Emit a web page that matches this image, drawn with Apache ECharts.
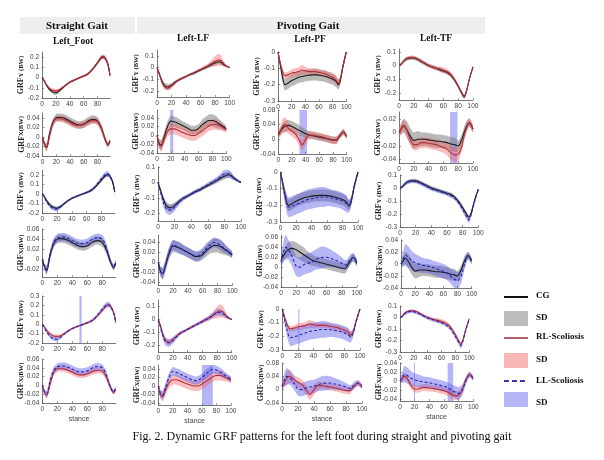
<!DOCTYPE html>
<html><head><meta charset="utf-8">
<script src="https://cdn.jsdelivr.net/npm/echarts@6/dist/echarts.min.js"></script>
<style>html,body{margin:0;padding:0;background:#fff}#c{width:604px;height:460px}</style>
</head><body><div id="c"></div>
<script>
// ---------- DATA ----------
const X_FOOT = [0,3,6,10,15,20,25,30,35,40,45,50,55,60,65,70,75,80,85,88,91,95,98];
const X_PIV  = [0,3,6,10,15,20,25,30,35,40,45,50,55,60,65,70,75,80,85,88,91,95,100];
const X_TICKS = [0,20,40,60,80,100];
const COLUMN_TITLES = ['Left_Foot','Left-LF','Left-PF','Left-TF'];
const GROUP_TITLES = ['Straight Gait','Pivoting Gait'];
const LEGEND_LABELS = ['CG','SD','RL-Scoliosis','SD','LL-Scoliosis','SD'];
const CAPTION = 'Fig. 2. Dynamic GRF patterns for the left foot during straight and pivoting gait';

// Left_Foot (straight)
const FOOT_Y_CG    = [0,-0.03,-0.07,-0.11,-0.14,-0.15,-0.13,-0.1,-0.07,-0.045,-0.03,-0.015,0,0.015,0.03,0.06,0.1,0.145,0.19,0.2,0.19,0.13,0.02];
const FOOT_Y_CG_SD = [0.005,0.01,0.012,0.015,0.018,0.02,0.016,0.012,0.01,0.01,0.01,0.01,0.01,0.012,0.012,0.014,0.015,0.018,0.02,0.02,0.02,0.02,0.02];
const FOOT_Y_RL    = [0,-0.03,-0.065,-0.1,-0.125,-0.13,-0.12,-0.095,-0.07,-0.045,-0.03,-0.015,0,0.015,0.03,0.06,0.1,0.145,0.195,0.205,0.19,0.13,0.02];
const FOOT_Y_RL_SD = [0.005,0.01,0.012,0.015,0.02,0.02,0.016,0.012,0.01,0.01,0.01,0.01,0.01,0.01,0.012,0.012,0.014,0.015,0.02,0.02,0.02,0.02,0.02];
const FOOT_Y_LL    = [0,-0.04,-0.085,-0.125,-0.155,-0.16,-0.135,-0.1,-0.07,-0.045,-0.03,-0.015,0,0.015,0.035,0.065,0.11,0.16,0.2,0.21,0.19,0.12,0.02];
const FOOT_Y_LL_SD = [0.005,0.012,0.015,0.02,0.022,0.022,0.016,0.012,0.01,0.01,0.01,0.01,0.01,0.012,0.015,0.018,0.02,0.025,0.03,0.03,0.025,0.02,0.02];
const FOOT_X_CG    = [0,-0.015,-0.022,0.005,0.03,0.04,0.041,0.04,0.037,0.033,0.029,0.026,0.025,0.027,0.032,0.036,0.037,0.033,0.02,0.008,-0.005,-0.017,-0.008];
const FOOT_X_CG_SD = [0.003,0.006,0.008,0.008,0.008,0.008,0.008,0.008,0.008,0.008,0.008,0.008,0.008,0.008,0.008,0.008,0.008,0.008,0.008,0.008,0.006,0.005,0.005];
const FOOT_X_RL    = [0,-0.016,-0.022,0,0.028,0.038,0.038,0.037,0.034,0.03,0.026,0.024,0.024,0.026,0.03,0.033,0.034,0.032,0.02,0.008,-0.005,-0.016,-0.01];
const FOOT_X_RL_SD = [0.003,0.006,0.008,0.008,0.008,0.007,0.007,0.007,0.007,0.007,0.007,0.007,0.007,0.007,0.007,0.007,0.007,0.007,0.007,0.007,0.006,0.005,0.005];
const FOOT_X_LL    = [0,-0.015,-0.02,0.008,0.033,0.042,0.044,0.044,0.041,0.037,0.033,0.031,0.031,0.033,0.038,0.042,0.043,0.04,0.026,0.01,-0.004,-0.015,-0.005];
const FOOT_X_LL_SD = [0.003,0.006,0.008,0.008,0.008,0.008,0.008,0.008,0.008,0.008,0.008,0.008,0.008,0.008,0.008,0.008,0.008,0.008,0.008,0.008,0.006,0.005,0.005];

// Left-LF (pivoting)
const LF_Y_CG    = [0,-0.05,-0.1,-0.15,-0.165,-0.15,-0.125,-0.105,-0.09,-0.075,-0.06,-0.05,-0.035,-0.02,-0.005,0.01,0.025,0.04,0.05,0.045,0.03,0.015,0];
const LF_Y_CG_SD = [0.005,0.015,0.02,0.025,0.025,0.02,0.015,0.012,0.012,0.012,0.012,0.012,0.012,0.012,0.015,0.015,0.018,0.02,0.02,0.02,0.015,0.01,0.005];
const LF_Y_RL    = [0,-0.05,-0.11,-0.16,-0.175,-0.155,-0.13,-0.105,-0.09,-0.075,-0.06,-0.045,-0.03,-0.015,0,0.015,0.035,0.055,0.065,0.06,0.04,0.015,0];
const LF_Y_RL_SD = [0.005,0.015,0.02,0.02,0.02,0.02,0.015,0.012,0.01,0.01,0.01,0.01,0.012,0.012,0.015,0.02,0.03,0.045,0.05,0.045,0.03,0.012,0.005];
const LF_Y_LL    = [0,-0.06,-0.12,-0.17,-0.18,-0.16,-0.13,-0.105,-0.09,-0.075,-0.06,-0.045,-0.03,-0.015,0,0.015,0.035,0.055,0.055,0.045,0.03,0.015,0];
const LF_Y_LL_SD = [0.005,0.02,0.03,0.03,0.03,0.025,0.02,0.015,0.012,0.012,0.012,0.012,0.012,0.015,0.015,0.018,0.02,0.025,0.025,0.02,0.015,0.01,0.005];
const LF_X_CG    = [0,-0.018,-0.022,-0.005,0.02,0.033,0.031,0.028,0.024,0.02,0.016,0.012,0.012,0.016,0.024,0.03,0.034,0.034,0.031,0.028,0.025,0.021,0.015];
const LF_X_CG_SD = [0.005,0.01,0.012,0.012,0.012,0.012,0.012,0.012,0.01,0.01,0.01,0.01,0.01,0.01,0.012,0.012,0.014,0.014,0.014,0.012,0.01,0.008,0.006];
const LF_X_RL    = [0,-0.02,-0.025,-0.01,0.008,0.015,0.015,0.012,0.008,0.005,0.002,0,0,0.005,0.01,0.016,0.022,0.025,0.025,0.024,0.022,0.018,0.013];
const LF_X_RL_SD = [0.005,0.01,0.012,0.012,0.012,0.012,0.012,0.012,0.012,0.012,0.012,0.012,0.012,0.012,0.012,0.012,0.012,0.012,0.012,0.012,0.01,0.008,0.006];
const LF_X_LL    = [0,-0.018,-0.022,-0.003,0.022,0.035,0.032,0.028,0.024,0.02,0.016,0.013,0.014,0.02,0.028,0.035,0.04,0.038,0.033,0.03,0.026,0.022,0.016];
const LF_X_LL_SD = [0.005,0.01,0.01,0.01,0.01,0.01,0.01,0.01,0.01,0.01,0.01,0.01,0.01,0.01,0.01,0.01,0.01,0.01,0.01,0.01,0.008,0.007,0.006];

// Left-PF (pivoting)
const PF_Y_CG    = [0,-0.07,-0.14,-0.2,-0.19,-0.175,-0.165,-0.155,-0.15,-0.145,-0.142,-0.14,-0.14,-0.142,-0.145,-0.15,-0.158,-0.165,-0.18,-0.2,-0.18,-0.09,0];
const PF_Y_CG_SD = [0.005,0.02,0.03,0.035,0.035,0.035,0.035,0.035,0.035,0.035,0.035,0.035,0.035,0.035,0.035,0.035,0.035,0.035,0.035,0.03,0.025,0.02,0.01];
const PF_Y_RL    = [0,-0.06,-0.11,-0.145,-0.14,-0.13,-0.125,-0.12,-0.11,-0.115,-0.12,-0.12,-0.12,-0.125,-0.13,-0.135,-0.145,-0.155,-0.17,-0.19,-0.17,-0.09,0];
const PF_Y_RL_SD = [0.005,0.015,0.02,0.02,0.02,0.025,0.025,0.025,0.03,0.025,0.02,0.02,0.02,0.02,0.02,0.02,0.02,0.02,0.025,0.025,0.02,0.02,0.01];
const PF_Y_LL    = [0,-0.08,-0.15,-0.21,-0.205,-0.195,-0.185,-0.175,-0.165,-0.16,-0.155,-0.15,-0.15,-0.15,-0.155,-0.16,-0.165,-0.175,-0.19,-0.205,-0.18,-0.09,0];
const PF_Y_LL_SD = [0.005,0.03,0.05,0.06,0.06,0.06,0.06,0.06,0.06,0.06,0.06,0.06,0.06,0.055,0.05,0.05,0.05,0.05,0.05,0.04,0.03,0.02,0.01];
const PF_X_CG    = [0.015,0.022,0.03,0.036,0.038,0.035,0.03,0.025,0.02,0.015,0.012,0.01,0.008,0.006,0.004,0.002,0,-0.002,-0.002,0.005,0.012,0.02,0.008];
const PF_X_CG_SD = [0.008,0.01,0.012,0.015,0.015,0.015,0.015,0.015,0.012,0.012,0.01,0.01,0.01,0.01,0.01,0.01,0.01,0.01,0.01,0.008,0.008,0.008,0.006];
const PF_X_RL    = [0.01,0.02,0.035,0.04,0.03,0.022,0.015,0,-0.015,0,0.012,0.012,0.01,0.008,0.006,0.003,0,-0.003,-0.003,0.005,0.012,0.02,0.008];
const PF_X_RL_SD = [0.008,0.012,0.02,0.02,0.015,0.015,0.015,0.015,0.015,0.015,0.012,0.01,0.01,0.01,0.01,0.01,0.01,0.01,0.01,0.008,0.008,0.008,0.006];
const PF_X_LL    = [0.01,0.03,0.04,0.035,0.02,0.002,0,0.005,0.008,0.01,0.015,0.018,0.02,0.02,0.018,0.015,0.012,0.008,0.004,0.008,0.015,0.02,0.01];
const PF_X_LL_SD = [0.01,0.02,0.025,0.02,0.02,0.02,0.02,0.02,0.02,0.02,0.02,0.022,0.022,0.02,0.018,0.016,0.014,0.012,0.01,0.01,0.01,0.008,0.006];

// Left-TF (pivoting)
const TF_Y_CG    = [0,0.01,0.03,0.048,0.055,0.055,0.045,0.03,0.015,0,-0.01,-0.02,-0.03,-0.04,-0.05,-0.07,-0.105,-0.15,-0.2,-0.225,-0.19,-0.1,-0.01];
const TF_Y_CG_SD = [0.005,0.01,0.012,0.015,0.015,0.015,0.015,0.015,0.015,0.015,0.015,0.015,0.015,0.015,0.015,0.015,0.015,0.015,0.015,0.015,0.015,0.01,0.005];
const TF_Y_RL    = [0,0.01,0.03,0.05,0.058,0.058,0.048,0.032,0.015,0,-0.01,-0.02,-0.025,-0.035,-0.045,-0.065,-0.1,-0.15,-0.205,-0.23,-0.19,-0.1,-0.01];
const TF_Y_RL_SD = [0.005,0.01,0.012,0.012,0.012,0.012,0.012,0.012,0.012,0.012,0.012,0.015,0.018,0.02,0.02,0.018,0.015,0.015,0.015,0.015,0.015,0.01,0.005];
const TF_Y_LL    = [0,0.01,0.03,0.045,0.053,0.05,0.04,0.025,0.01,-0.005,-0.015,-0.025,-0.035,-0.045,-0.06,-0.08,-0.115,-0.165,-0.22,-0.245,-0.2,-0.11,-0.01];
const TF_Y_LL_SD = [0.005,0.012,0.015,0.015,0.015,0.015,0.015,0.015,0.015,0.015,0.015,0.015,0.015,0.015,0.015,0.015,0.018,0.02,0.022,0.025,0.02,0.012,0.005];
const TF_X_CG    = [0,0.005,0.01,0.005,-0.005,-0.012,-0.01,-0.01,-0.01,-0.011,-0.012,-0.013,-0.013,-0.014,-0.015,-0.017,-0.018,-0.02,-0.01,0,0.008,0.014,0.005];
const TF_X_CG_SD = [0.005,0.008,0.01,0.012,0.012,0.012,0.012,0.01,0.01,0.01,0.01,0.01,0.01,0.01,0.01,0.01,0.01,0.008,0.008,0.008,0.008,0.006,0.005];
const TF_X_RL    = [0,0.005,0.01,0.005,-0.01,-0.018,-0.018,-0.015,-0.015,-0.016,-0.017,-0.018,-0.02,-0.022,-0.025,-0.03,-0.033,-0.032,-0.02,-0.005,0.006,0.015,0.005];
const TF_X_RL_SD = [0.005,0.008,0.008,0.008,0.008,0.008,0.008,0.008,0.008,0.008,0.008,0.008,0.008,0.008,0.009,0.01,0.01,0.01,0.008,0.008,0.008,0.006,0.005];
const TF_X_LL    = [0,0.008,0.015,0.012,0.006,0.002,0,-0.002,-0.003,-0.004,-0.006,-0.008,-0.01,-0.012,-0.015,-0.02,-0.025,-0.028,-0.02,-0.008,0.004,0.014,0.005];
const TF_X_LL_SD = [0.005,0.012,0.018,0.018,0.016,0.015,0.014,0.013,0.012,0.012,0.012,0.012,0.012,0.012,0.012,0.012,0.014,0.014,0.012,0.01,0.008,0.006,0.005];

// highlighted stance ranges: [row, col, from, to]
const HIGHLIGHTS = [[1,1,19,23.5],[1,2,31,42],[1,3,69,79],[4,0,49.5,52.5],[4,2,20.5,22],[5,1,60,75],[5,3,19,20.5],[5,3,65,72.5]];

// ---------- ASSEMBLY ----------
const COLS = [
  {x:X_FOOT, xmax:98, y:{CG:[FOOT_Y_CG,FOOT_Y_CG_SD],RL:[FOOT_Y_RL,FOOT_Y_RL_SD],LL:[FOOT_Y_LL,FOOT_Y_LL_SD]}, f:{CG:[FOOT_X_CG,FOOT_X_CG_SD],RL:[FOOT_X_RL,FOOT_X_RL_SD],LL:[FOOT_X_LL,FOOT_X_LL_SD]}},
  {x:X_PIV, xmax:100, y:{CG:[LF_Y_CG,LF_Y_CG_SD],RL:[LF_Y_RL,LF_Y_RL_SD],LL:[LF_Y_LL,LF_Y_LL_SD]}, f:{CG:[LF_X_CG,LF_X_CG_SD],RL:[LF_X_RL,LF_X_RL_SD],LL:[LF_X_LL,LF_X_LL_SD]}},
  {x:X_PIV, xmax:100, y:{CG:[PF_Y_CG,PF_Y_CG_SD],RL:[PF_Y_RL,PF_Y_RL_SD],LL:[PF_Y_LL,PF_Y_LL_SD]}, f:{CG:[PF_X_CG,PF_X_CG_SD],RL:[PF_X_RL,PF_X_RL_SD],LL:[PF_X_LL,PF_X_LL_SD]}},
  {x:X_PIV, xmax:100, y:{CG:[TF_Y_CG,TF_Y_CG_SD],RL:[TF_Y_RL,TF_Y_RL_SD],LL:[TF_Y_LL,TF_Y_LL_SD]}, f:{CG:[TF_X_CG,TF_X_CG_SD],RL:[TF_X_RL,TF_X_RL_SD],LL:[TF_X_LL,TF_X_LL_SD]}}
];
const ROW_GROUPS = [['CG','RL'],['CG','RL'],['CG','LL'],['CG','LL'],['RL','LL'],['RL','LL']];
const STYLE = {
  CG:{line:{color:'#1c1c1c',width:1.1}, band:'rgba(120,120,120,0.52)'},
  RL:{line:{color:'#b3303a',width:1.1}, band:'rgba(240,90,90,0.4)'},
  LL:{line:{color:'#2626a8',width:1.1,type:[3,2]}, band:'rgba(80,80,235,0.42)'}
};
const GL = [
 [[42,68],[157,72.6],[278,68.3],[399,74]],
 [[42.5,67.5],[157,69.3],[278.3,68.4],[399,74]],
 [[42.3,72.5],[158,83],[280.5,77.5],[400,78.3]],
 [[42.3,73.5],[158.3,74],[281,76],[401,70.7]],
 [[42.3,73.5],[158.3,73.4],[282.3,77.7],[400,69.3]],
 [[42.3,73.5],[158.3,72.7],[282,80],[400,73.3]]
];
const GV = [
 [[52,46,-0.2,0.25,0.1],[50,47,-0.25,0.15,0.1],[52,49,-0.3,0,0.1],[49,51,-0.25,0.12,0.1]],
 [[113,43,-0.04,0.05,0.02],[110,43,-0.04,0.058,0.02],[110,44,-0.04,0.08,0.04],[112,51,-0.045,0.03,0.02]],
 [[170,43,-0.2,0.25,0.1],[167,54,-0.25,0.1,0.1],[172,50,-0.3,0,0.1],[175,52,-0.3,0.1,0.1]],
 [[229,48,-0.035,0.06,0.02],[235,50,-0.045,0.055,0.02],[235,52,-0.04,0.065,0.02],[240,48,-0.04,0.04,0.02]],
 [[296,47,-0.2,0.3,0.1],[300,52,-0.25,0.15,0.1],[309,41,-0.3,0,0.1],[306,46,-0.3,0.1,0.1]],
 [[359,44,-0.04,0.06,0.02],[365,40,-0.045,0.05,0.02],[363,40,-0.04,0.08,0.04],[363,38,-0.045,0.04,0.02]]
];
function ticks(min,max,step){const out=[];for(let k=Math.ceil(min/step-1e-9);k<=Math.floor(max/step+1e-9);k++){out.push(+(k*step).toFixed(4));}return out;}
function fmt(v){const s=+(+v).toFixed(4);return s===0?'0':String(s);}
const SERIF='"Liberation Serif","DejaVu Serif",serif';
const SANS='"Liberation Sans",Arial,sans-serif';
const grids=[],xAxes=[],yAxes=[],series=[];
function makeBandRender(pts,color){
  return function(params, api){
    if(params.dataIndex!==0) return null;
    const up=[],dn=[];
    for(let i=0;i<pts.length;i++){
      up.push(api.coord([pts[i][0],pts[i][2]]));
      dn.push(api.coord([pts[i][0],pts[i][1]]));
    }
    const poly=up.concat(dn.reverse());
    const cs=params.coordSys;
    return {type:'group',children:[{type:'polygon',shape:{points:poly,smooth:0.25},style:{fill:color},silent:true}],
      clipPath:{type:'rect',shape:{x:cs.x,y:cs.y,width:cs.width,height:cs.height}}};
  };
}
let idx=0;
for(let r=0;r<6;r++){
  for(let c=0;c<4;c++){
    const [left,width]=GL[r][c]; const [top,height,ymin,ymax,step]=GV[r][c];
    const col=COLS[c];
    grids.push({left,top,width,height,containLabel:false});
    const xt=X_TICKS.filter(v=>v<=col.xmax);
    xAxes.push({type:'value',gridIndex:idx,min:0,max:col.xmax,position:'bottom',
      axisLine:{onZero:false,lineStyle:{color:'#555',width:0.8}},
      axisTick:{inside:true,length:2,customValues:xt,lineStyle:{color:'#555',width:0.6}},
      axisLabel:{customValues:xt,fontSize:6.5,color:'#444',fontFamily:SANS,margin:3,formatter:fmt},
      splitLine:{show:false},nameMoveOverlap:false,
      name:r===5?'stance':'',nameLocation:'middle',nameGap:13,nameTextStyle:{fontSize:7,color:'#444',fontFamily:SANS}});
    const yt=ticks(ymin,ymax,step);
    let yname = (r%2===0)?'{a|GRF}{b|Y (BW)}':'{a|GRF}{b|X(BW)}';
    if(r===3&&c===2) yname='{a|GRF}{b|(BW)}';
    yAxes.push({type:'value',gridIndex:idx,min:ymin,max:ymax,position:'left',
      axisLine:{show:true,onZero:false,lineStyle:{color:'#555',width:0.8}},
      axisTick:{show:true,inside:true,length:2,customValues:yt,lineStyle:{color:'#555',width:0.6}},
      axisLabel:{customValues:yt,fontSize:6.5,color:'#444',fontFamily:SANS,margin:3,formatter:fmt},
      splitLine:{show:false},
      name:yname,nameLocation:'middle',nameGap:17,nameRotate:90,nameMoveOverlap:false,
      nameTextStyle:{rich:{a:{fontFamily:SERIF,fontWeight:'bold',fontSize:8,color:'#222'},b:{fontFamily:SERIF,fontWeight:'bold',fontSize:6.5,color:'#222'}}}});
    const src = (r%2===0)?col.y:col.f;
    const groups=ROW_GROUPS[r];
    groups.forEach(g=>{
      const [m,sd]=src[g];
      const pts=col.x.map((x,i)=>[x,+(m[i]-sd[i]).toFixed(5),+(m[i]+sd[i]).toFixed(5)]);
      series.push({type:'custom',coordinateSystem:'cartesian2d',xAxisIndex:idx,yAxisIndex:idx,data:pts,
        encode:{x:0,y:[1,2]},silent:true,z:1,animation:false,renderItem:makeBandRender(pts,STYLE[g].band)});
    });
    const hl=HIGHLIGHTS.filter(h=>h[0]===r&&h[1]===c).map(h=>[{xAxis:h[2]},{xAxis:h[3]}]);
    groups.forEach((g,gi)=>{
      const [m]=src[g];
      const s={type:'line',xAxisIndex:idx,yAxisIndex:idx,data:col.x.map((x,i)=>[x,m[i]]),symbol:'none',smooth:0.3,lineStyle:STYLE[g].line,silent:true,z:3,animation:false};
      if(gi===0&&hl.length){s.markArea={silent:true,itemStyle:{color:'rgba(110,110,240,0.5)'},data:hl};}
      series.push(s);
    });
    idx++;
  }
}
// ---------- GRAPHICS ----------
const graphic=[
  {type:'rect',shape:{x:20,y:17,width:465,height:17},style:{fill:'#eeeeee'},silent:true},
  {type:'rect',shape:{x:135,y:17,width:2,height:17},style:{fill:'#ffffff'},silent:true},
  {type:'text',x:77,y:26,style:{text:GROUP_TITLES[0],font:'bold 11px '+SERIF,fill:'#111',align:'center',verticalAlign:'middle'}},
  {type:'text',x:308,y:26,style:{text:GROUP_TITLES[1],font:'bold 11px '+SERIF,fill:'#111',align:'center',verticalAlign:'middle'}},
  {type:'text',x:73,y:42,style:{text:COLUMN_TITLES[0],font:'bold 9.5px '+SERIF,fill:'#111',align:'center',verticalAlign:'middle'}},
  {type:'text',x:193,y:39,style:{text:COLUMN_TITLES[1],font:'bold 9.5px '+SERIF,fill:'#111',align:'center',verticalAlign:'middle'}},
  {type:'text',x:310,y:40,style:{text:COLUMN_TITLES[2],font:'bold 9.5px '+SERIF,fill:'#111',align:'center',verticalAlign:'middle'}},
  {type:'text',x:436,y:39,style:{text:COLUMN_TITLES[3],font:'bold 9.5px '+SERIF,fill:'#111',align:'center',verticalAlign:'middle'}},
  {type:'line',shape:{x1:504,y1:297,x2:528,y2:297},style:{stroke:'#111',lineWidth:2}},
  {type:'rect',shape:{x:504,y:311,width:24,height:15},style:{fill:'#bdbdbd'}},
  {type:'line',shape:{x1:504,y1:338,x2:528,y2:338},style:{stroke:'#b4606a',lineWidth:2}},
  {type:'rect',shape:{x:504,y:353,width:24,height:15},style:{fill:'#f8b6b6'}},
  {type:'line',shape:{x1:504,y1:381,x2:528,y2:381},style:{stroke:'#3838b0',lineWidth:2,lineDash:[5,3]}},
  {type:'rect',shape:{x:504,y:392,width:24,height:15},style:{fill:'#b6b6f6'}},
  {type:'text',x:536,y:296,style:{text:LEGEND_LABELS[0],font:'bold 9px '+SERIF,fill:'#111',verticalAlign:'middle'}},
  {type:'text',x:536,y:318,style:{text:LEGEND_LABELS[1],font:'bold 9px '+SERIF,fill:'#111',verticalAlign:'middle'}},
  {type:'text',x:536,y:337,style:{text:LEGEND_LABELS[2],font:'bold 9px '+SERIF,fill:'#111',verticalAlign:'middle'}},
  {type:'text',x:536,y:360,style:{text:LEGEND_LABELS[3],font:'bold 9px '+SERIF,fill:'#111',verticalAlign:'middle'}},
  {type:'text',x:536,y:381,style:{text:LEGEND_LABELS[4],font:'bold 9px '+SERIF,fill:'#111',verticalAlign:'middle'}},
  {type:'text',x:536,y:403,style:{text:LEGEND_LABELS[5],font:'bold 9px '+SERIF,fill:'#111',verticalAlign:'middle'}},
  {type:'text',x:322,y:437,style:{text:CAPTION,font:'12px '+SERIF,fill:'#111',align:'center',verticalAlign:'middle'}}
];
const chart=echarts.init(document.getElementById('c'),null,{renderer:'canvas'});
chart.setOption({animation:false,backgroundColor:'#fff',grid:grids,xAxis:xAxes,yAxis:yAxes,series,graphic});
</script></body></html>
